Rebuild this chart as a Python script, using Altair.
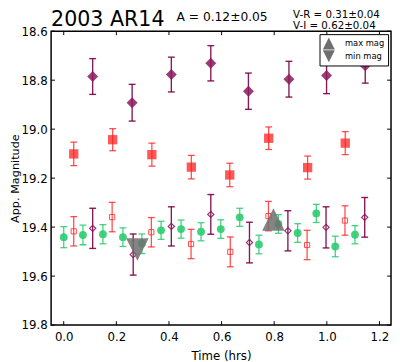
import altair as alt
import pandas as pd

# ---------------- data ----------------
# filled purple diamonds
t_pd = [0.110, 0.260, 0.409, 0.559, 0.702, 0.856, 0.999, 1.146]
m_pd = [18.785, 18.892, 18.777, 18.731, 18.845, 18.796, 18.781, 18.741]
e_pd = [0.073, 0.075, 0.071, 0.072, 0.074, 0.073, 0.074, 0.071]

# filled red squares
t_rs = [0.038, 0.186, 0.335, 0.485, 0.631, 0.779, 0.927, 1.070]
m_rs = [19.101, 19.043, 19.104, 19.155, 19.187, 19.037, 19.157, 19.057]
e_rs = [0.048, 0.045, 0.047, 0.048, 0.048, 0.046, 0.047, 0.047]

# open red squares
t_ro = [0.038, 0.184, 0.333, 0.484, 0.633, 0.778, 0.925, 1.069]
m_ro = [19.417, 19.359, 19.421, 19.469, 19.501, 19.355, 19.473, 19.373]
e_ro = [0.060, 0.060, 0.060, 0.060, 0.061, 0.060, 0.060, 0.060]

# open purple diamonds
t_po = [0.110, 0.264, 0.409, 0.559, 0.706, 0.852, 0.997, 1.144]
m_po = [19.405, 19.512, 19.397, 19.348, 19.463, 19.415, 19.401, 19.360]
e_po = [0.082, 0.084, 0.080, 0.081, 0.083, 0.082, 0.084, 0.081]

# green circles
t_g = [0.000, 0.073, 0.149, 0.225, 0.297, 0.370, 0.446, 0.522,
       0.597, 0.669, 0.742, 0.816, 0.889, 0.960, 1.032, 1.107]
m_g = [19.441, 19.432, 19.429, 19.441, 19.468, 19.413, 19.408, 19.419,
       19.408, 19.360, 19.471, 19.387, 19.424, 19.344, 19.479, 19.431]
e_g = [0.043, 0.040, 0.039, 0.038, 0.040, 0.037, 0.037, 0.037,
       0.038, 0.037, 0.038, 0.038, 0.038, 0.037, 0.042, 0.037]

# extrema triangles
tri_kind = ["max mag", "min mag"]
tri_t = [0.797, 0.280]
tri_m = [19.369, 19.491]

# axis ticks
x_ticks = [0.0, 0.2, 0.4, 0.6, 0.8, 1.0, 1.2]
y_ticks = [18.6, 18.8, 19.0, 19.2, 19.4, 19.6, 19.8]

# annotation text
title_text = "2003 AR14"
amp_text = "A  = 0.12\u00b10.05"
vr_text = "V-R = 0.31\u00b10.04"
vi_text = "V-I  = 0.62\u00b10.04"

# ---------------- chart ----------------
W, H = 347, 300
FONT = "DejaVu Sans"
PURPLE = "#8b1a5e"
PURPLE_BAR = "#7a0044"
RED = "#ff2020"
GREEN = "#2ecc71"

xscale = alt.Scale(domain=[-0.048, 1.244], nice=False, zero=False)
yscale = alt.Scale(domain=[18.6, 19.8], reverse=True, nice=False, zero=False)

AX = alt.Axis(values=x_ticks, format=".1f", title="Time (hrs)", ticks=False,
              tickSize=0, domain=False, grid=False, labelPadding=7,
              titlePadding=8, labelFlush=False)
AY = alt.Axis(values=y_ticks, format=".1f", title="App. Magnitude", ticks=False,
              tickSize=0, domain=False, grid=False, labelPadding=4,
              titlePadding=1, labelFlush=False, titleFontSize=11.5)

DIAMOND = "M-1,0L0,-1L1,0L0,1Z"
UP = "M0,-1L1,1L-1,1Z"
DOWN = "M-1,-1L1,-1L0,1Z"


def frame(t, m, e):
    return pd.DataFrame({
        "t": t, "mag": m,
        "lo": [a - b for a, b in zip(m, e)],
        "hi": [a + b for a, b in zip(m, e)],
    })


def xe(field="t"):
    return alt.X(f"{field}:Q", scale=xscale, axis=AX)


def ye(field="mag"):
    return alt.Y(f"{field}:Q", scale=yscale, axis=AY)


def errbars(df, color, width=1.4, opacity=1.0):
    rule = alt.Chart(df).mark_rule(color=color, strokeWidth=width, opacity=opacity).encode(
        x=xe(), y=ye("lo"), y2="hi:Q")
    cap_lo = alt.Chart(df).mark_tick(color=color, orient="horizontal", size=7,
                                      thickness=width, opacity=opacity).encode(
        x=xe(), y=ye("lo"))
    cap_hi = alt.Chart(df).mark_tick(color=color, orient="horizontal", size=7,
                                      thickness=width, opacity=opacity).encode(
        x=xe(), y=ye("hi"))
    return [rule, cap_lo, cap_hi]


df_pd = frame(t_pd, m_pd, e_pd)
df_rs = frame(t_rs, m_rs, e_rs)
df_ro = frame(t_ro, m_ro, e_ro)
df_po = frame(t_po, m_po, e_po)
df_g = frame(t_g, m_g, e_g)

pts_g = alt.Chart(df_g).mark_point(shape="circle", filled=True, size=64, color=GREEN,
                                   opacity=0.9).encode(x=xe(), y=ye())
pts_ro = alt.Chart(df_ro).mark_point(shape="square", filled=False, size=28, color=RED,
                                     strokeWidth=1, opacity=0.8).encode(x=xe(), y=ye())
pts_po = alt.Chart(df_po).mark_point(shape=DIAMOND, filled=False, size=40, color=PURPLE,
                                     strokeWidth=1.2, opacity=0.9).encode(x=xe(), y=ye())
pts_rs = alt.Chart(df_rs).mark_point(shape="square", filled=True, size=90, color=RED,
                                     opacity=0.75).encode(x=xe(), y=ye())
pts_pd = alt.Chart(df_pd).mark_point(shape=DIAMOND, filled=True, size=125, color=PURPLE,
                                     opacity=0.85).encode(x=xe(), y=ye())

df_tri = pd.DataFrame({"kind": tri_kind, "t": tri_t, "mag": tri_m})
tri = alt.Chart(df_tri).mark_point(filled=True, size=529, color="#6e6e6e", opacity=0.85,
                                   strokeWidth=0).encode(
    x=xe(), y=ye(),
    shape=alt.Shape("kind:N", scale=alt.Scale(domain=tri_kind, range=[UP, DOWN]),
                    legend=alt.Legend(orient="top-right", title=None, offset=3,
                                      strokeColor="black", fillColor="white", padding=3,
                                      symbolSize=150, symbolFillColor="#888888",
                                      symbolStrokeWidth=0, symbolOpacity=1,
                                      labelFontSize=8.5, labelFont=FONT, labelOffset=10,
                                      rowPadding=0, labelColor="black")),
)

# inward tick marks on all four sides
xt = pd.DataFrame({"t": x_ticks})
yt = pd.DataFrame({"mag": y_ticks})
tk_b = alt.Chart(xt).mark_rule(color="black", strokeWidth=1).encode(
    x=xe(), y=alt.value(H), y2=alt.value(H - 4))
tk_t = alt.Chart(xt).mark_rule(color="black", strokeWidth=1).encode(
    x=xe(), y=alt.value(0), y2=alt.value(4))
tk_l = alt.Chart(yt).mark_rule(color="black", strokeWidth=1).encode(
    y=ye(), x=alt.value(0), x2=alt.value(4))
tk_r = alt.Chart(yt).mark_rule(color="black", strokeWidth=1).encode(
    y=ye(), x=alt.value(W), x2=alt.value(W - 4))

one = pd.DataFrame({"a": [0]})
txt_title = alt.Chart(one).mark_text(align="left", baseline="alphabetic", fontSize=21,
                                     font=FONT, color="black").encode(
    x=alt.value(0), y=alt.value(-5), text=alt.value(title_text))
txt_amp = alt.Chart(one).mark_text(align="left", baseline="middle", fontSize=12.5,
                                   font=FONT, color="black").encode(
    x=alt.value(128), y=alt.value(-14), text=alt.value(amp_text))
txt_vr = alt.Chart(one).mark_text(align="left", baseline="middle", fontSize=10.5,
                                  font=FONT, color="black").encode(
    x=alt.value(247), y=alt.value(-16), text=alt.value(vr_text))
txt_vi = alt.Chart(one).mark_text(align="left", baseline="middle", fontSize=10.5,
                                  font=FONT, color="black").encode(
    x=alt.value(247), y=alt.value(-5), text=alt.value(vi_text))

layers = []
layers += errbars(df_g, GREEN, 1.3, 0.9)
layers += errbars(df_ro, RED, 1.3, 0.8)
layers += errbars(df_po, PURPLE_BAR, 1.4, 0.9)
layers += errbars(df_rs, RED, 1.3, 0.8)
layers += errbars(df_pd, PURPLE_BAR, 1.4, 0.9)
layers += [pts_g, pts_ro, pts_po, pts_rs, pts_pd, tri,
           tk_b, tk_t, tk_l, tk_r, txt_title, txt_amp, txt_vr, txt_vi]

chart = alt.layer(*layers).properties(
    width=W, height=H,
    autosize=alt.AutoSizeParams(type="none"),
    padding={"left": 44, "top": 20, "right": 1, "bottom": 34},
).configure_view(
    stroke="black", strokeWidth=1.5
).configure_axis(
    labelFont=FONT, labelFontSize=12, labelColor="black",
    titleFont=FONT, titleFontSize=12, titleColor="black", titleFontWeight="normal",
)

chart.save("out.html", embed_options={"renderer": "svg", "actions": False})
